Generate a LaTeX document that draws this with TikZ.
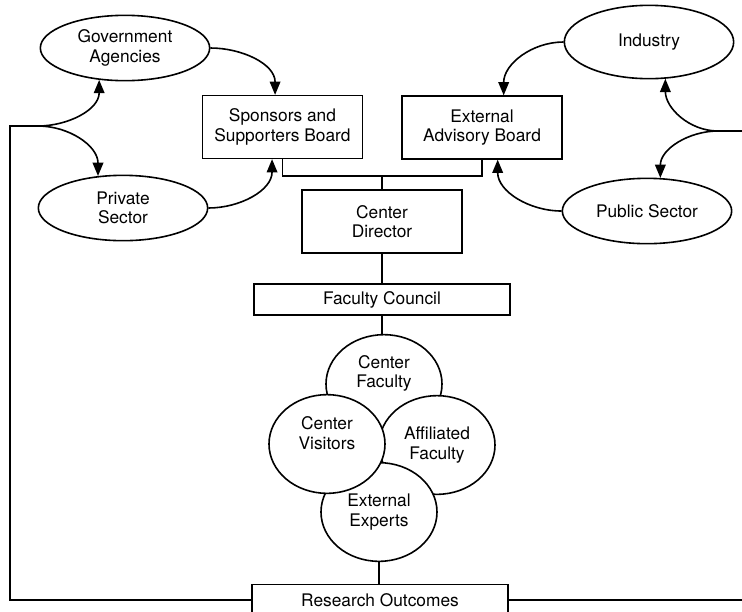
\documentclass[tikz,border=0pt]{standalone}
\usepackage{fontspec}
\setmainfont{TeX Gyre Heros}
\usetikzlibrary{shapes.geometric,arrows.meta}

\begin{document}
\begin{tikzpicture}[x=0.75pt,y=0.75pt,line width=1.2pt,
        every node/.style={font=\fontsize{13pt}{14.5pt}\selectfont,align=center,inner sep=0pt},
        oval/.style={shape=ellipse,draw=black,minimum width=127pt,minimum height=49pt},
        board/.style={shape=rectangle,draw=black,minimum width=120pt,minimum height=47pt},
        wide/.style={shape=rectangle,draw=black,fill=white,minimum width=192pt,minimum height=23.5pt},
        group/.style={shape=ellipse,draw=black,fill=white,minimum width=87pt,minimum height=74pt},
        >={Triangle[length=10pt,width=8pt]}]

        \useasboundingbox (0,0) rectangle (742,-611);

        \node[oval] (gov) at (125,-48) {Government\\Agencies};
        \node[oval] (priv) at (123,-208) {Private\\Sector};
        \node[oval,minimum height=55pt] (ind) at (649,-42) {Industry};
        \node[oval] (pub) at (647,-211) {Public Sector};

        \node[board] (sponsors) at (282.5,-127) {Sponsors and\\Supporters Board};
        \node[board] (eab) at (482,-127.5) {External\\Advisory Board};
        \node[board] (director) at (382,-221.5) {Center\\Director};
        \node[wide] (council) at (382,-299.5) {Faculty Council};

        \node[group] (cf) at (384,-384) {Center\\Faculty\\[4pt]};
        \node[group] (av) at (437,-445) {Affiliated\\Faculty};
        \node[group] (ee) at (379,-512) {External\\Experts};
        \node[group] (cv) at (327,-444) {Center\\Visitors\\[2pt]};

        \node[wide] (outcomes) at (380,-600) {Research Outcomes};

        \coordinate (join) at (382,-176);
        \coordinate (lsplit) at (38,-126);
        \coordinate (ltop) at (10,-126);
        \coordinate (lbot) at (10,-600);
        \coordinate (rsplit) at (718,-131);
        \coordinate (rtop) at (760,-131);
        \coordinate (rbot) at (760,-600);

        % boards to director and down the centre
        \draw (sponsors.south) |- (join) -| (eab.south);
        \draw (join) -- (director);
        \draw (director) -- (council);
        \draw (council.south) -- (council.south |- cf.north);
        \draw (ee.south) -- (ee.south |- outcomes.north);

        % feedback from the outcomes
        \draw (outcomes.west) -- (lbot) -- (ltop) -- (lsplit);
        \draw (outcomes.east) -- (rbot) -- (rtop) -- (rsplit);

        \path[->] (lsplit) edge[out=0,in=-90] (gov.231);
        \path[->] (lsplit) edge[out=0,in=90] (priv.128);
        \path[->] (rsplit) edge[out=180,in=-90] (ind.294);
        \path[->] (rsplit) edge[out=180,in=90] (pub.68);

        \path[->] (gov.east) edge[out=0,in=90] (sponsors.103);
        \path[->] (priv.east) edge[out=0,in=-90] (sponsors.252);
        \path[->] (ind.west) edge[out=180,in=90] (eab.56);
        \path[->] (pub.west) edge[out=180,in=-90] (eab.296);

\end{tikzpicture}
\end{document}
